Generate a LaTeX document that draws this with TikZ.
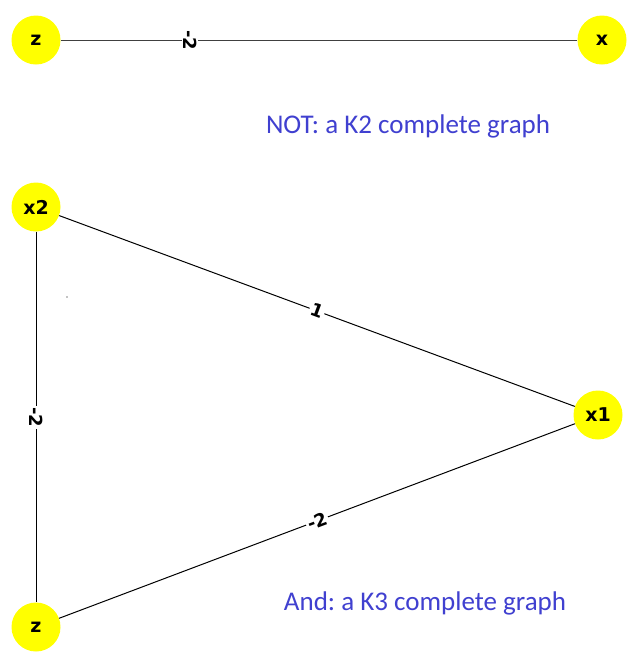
\documentclass[tikz,border=0pt]{standalone}
\usepackage{fontspec}
\setmainfont{Carlito}
\newfontfamily\lblfont{DejaVu Sans}
\definecolor{capblue}{RGB}{64,64,208}
\definecolor{nodeyellow}{RGB}{255,255,0}
\frenchspacing
\begin{document}
\begin{tikzpicture}[x=1pt,y=-1pt,
  vtx/.style={circle, fill=nodeyellow, minimum size=49pt, inner sep=0pt, font=\lblfont\bfseries\fontsize{19}{19}\selectfont},
  elabel/.style={fill=white, inner sep=1.5pt, font=\lblfont\bfseries\fontsize{18}{18}\selectfont},
  edge/.style={draw=black, line width=1pt},
  caption/.style={text=capblue, font=\fontsize{27}{27}\selectfont}]
\useasboundingbox[fill=white] (0,0) rectangle (638,659);
\node[vtx] (z1) at (36,40) {z};
\node[vtx] (x) at (602,40) {x};
\node[vtx] (x2) at (36,207) {x2};
\node[vtx] (x1) at (598,415) {x1};
\node[vtx] (z2) at (36,627) {z};
\draw[edge, draw=black!75] (z1) -- node[elabel, pos=0.25, rotate=-90] {-2} (x);
\draw[edge] (x2) -- node[elabel, sloped] {1} (x1);
\draw[edge] (x2) -- node[elabel, rotate=-90] {-2} (z2);
\draw[edge] (z2) -- node[elabel, sloped] {-2} (x1);
\node[caption] (t1) at (408,126) {NOT: a K2 complete graph};
\node[caption] (t2) at (425,603) {And: a K3 complete graph};
\fill (67,297) circle (0.6pt);
\end{tikzpicture}
\end{document}
